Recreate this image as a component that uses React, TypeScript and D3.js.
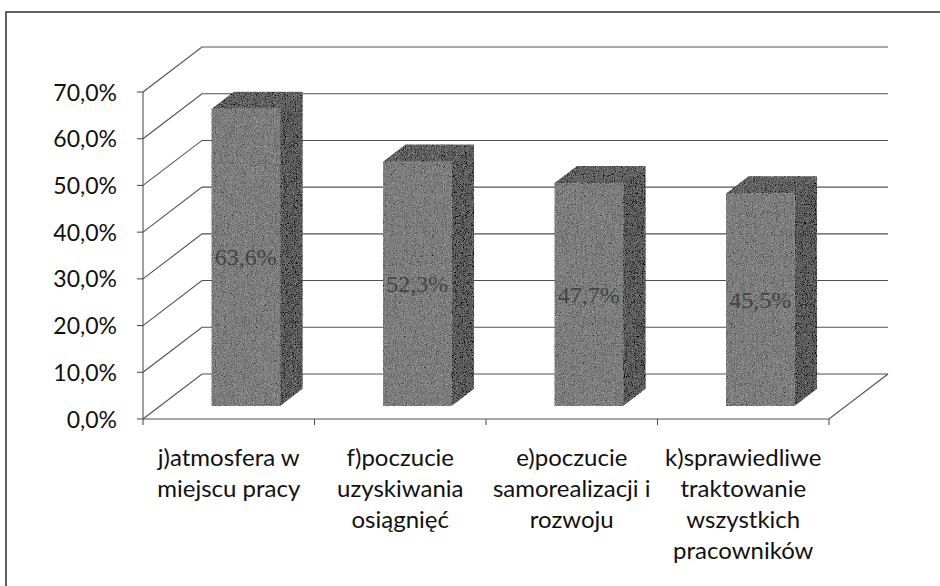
import * as d3 from "d3";

const categoryLines: string[][] = [
  ["j)atmosfera w", "miejscu pracy"],
  ["f)poczucie", "uzyskiwania", "osiągnięć"],
  ["e)poczucie", "samorealizacji i", "rozwoju"],
  ["k)sprawiedliwe", "traktowanie", "wszystkich", "pracowników"],
];
const values = [63.6, 52.3, 47.7, 45.5];
const yTicks = [0, 10, 20, 30, 40, 50, 60, 70];

const W = 940;
const H = 586;
// full depth of the 3D box (screen offset from front plane to back wall)
const DX = 59;
const DY = 45;
// bar sits between these depth fractions
const Z0 = 0.29;
const Z1 = 0.67;

const pl = d3.formatLocale({
  decimal: ",",
  thousands: " ",
  grouping: [3],
  currency: ["", " zł"],
});
const fmt = (v: number) => pl.format(".1f")(v) + "%";

const x = d3
  .scaleBand<number>()
  .domain(values.map((_, i) => i))
  .range([143, 829])
  .paddingInner(0.6)
  .paddingOuter(0.3);
const step = x.step();
const x0 = 143;
const y = d3.scaleLinear().domain([0, 70]).range([419, 92]);

const pt = (px: number, v: number, z: number): [number, number] => [
  px + z * DX,
  y(v) - z * DY,
];
const poly = (pts: [number, number][]) =>
  "M" + pts.map((p) => p.join(",")).join("L") + "Z";

const gridColor = "#505050";
const labelFont = "Lato, 'Open Sans', sans-serif";

export default function App() {
  const xEnd = 829;
  return (
    <svg
      width={W}
      height={H}
      style={{ position: "absolute", left: 0, top: 0, background: "#fff" }}
    >
      <defs>
        <filter id="grain" x="0" y="0" width="100%" height="100%">
          <feTurbulence
            type="fractalNoise"
            baseFrequency="1.1"
            numOctaves="2"
            seed="3"
            result="noise"
          />
          <feColorMatrix
            in="noise"
            type="matrix"
            values="0.33 0.33 0.33 0 0  0.33 0.33 0.33 0 0  0.33 0.33 0.33 0 0  0 0 0 0 1"
            result="gray"
          />
          <feComposite
            in="SourceGraphic"
            in2="gray"
            operator="arithmetic"
            k1="0"
            k2="1"
            k3="0.8"
            k4="-0.4"
            result="mix"
          />
          <feComposite in="mix" in2="SourceGraphic" operator="in" />
        </filter>
      </defs>

      {/* outer frame */}
      <rect
        x={6}
        y={12}
        width={W + 10}
        height={H + 10}
        fill="none"
        stroke="#3a3a3a"
        strokeWidth={1.6}
      />

      {/* back wall and side wall gridlines */}
      <g stroke={gridColor} strokeWidth={1.1} fill="none">
        {yTicks.map((t) => {
          const a = pt(x0, t, 0);
          const b = pt(x0, t, 1);
          const c = pt(xEnd, t, 1);
          return (
            <path
              key={t}
              d={`M${a[0]},${a[1]}L${b[0]},${b[1]}L${c[0]},${c[1]}`}
            />
          );
        })}
        {/* floor front and right edges */}
        <path
          d={(() => {
            const a = pt(x0, 0, 0);
            const b = pt(xEnd, 0, 0);
            const c = pt(xEnd, 0, 1);
            return `M${a[0]},${a[1]}L${b[0]},${b[1]}L${c[0]},${c[1]}`;
          })()}
        />
        {/* vertical axis */}
        <line x1={x0} x2={x0} y1={y(0)} y2={y(70)} />
        {yTicks.map((t) => (
          <line key={"yt" + t} x1={x0 - 6} x2={x0} y1={y(t)} y2={y(t)} />
        ))}
        {d3.range(values.length + 1).map((i) => (
          <line
            key={"xt" + i}
            x1={x0 + i * step}
            x2={x0 + i * step}
            y1={y(0)}
            y2={y(0) + 6}
          />
        ))}
      </g>

      {/* y tick labels */}
      <g fontFamily={labelFont} fontSize={23} fill="#111" textAnchor="end">
        {yTicks.map((t) => (
          <text key={t} x={117} y={y(t) + 8.5}>
            {fmt(t)}
          </text>
        ))}
      </g>

      {/* bars */}
      {values.map((v, i) => {
        const l = x(i)!;
        const r = l + x.bandwidth();
        const front = poly([pt(l, 0, Z0), pt(r, 0, Z0), pt(r, v, Z0), pt(l, v, Z0)]);
        const side = poly([pt(r, 0, Z0), pt(r, 0, Z1), pt(r, v, Z1), pt(r, v, Z0)]);
        const top = poly([pt(l, v, Z0), pt(r, v, Z0), pt(r, v, Z1), pt(l, v, Z1)]);
        const c = pt((l + r) / 2, v / 2, Z0);
        return (
          <g key={i}>
            <g filter="url(#grain)">
              <path d={front} fill="#7e7e7e" />
              <path d={side} fill="#5c5c5c" />
              <path d={top} fill="#626262" />
            </g>
            <text
              x={c[0]}
              y={c[1] + 8}
              textAnchor="middle"
              fontFamily="'Liberation Serif', 'DejaVu Serif', serif"
              fontSize={24}
              fill="#444"
            >
              {fmt(v)}
            </text>
          </g>
        );
      })}

      {/* category labels */}
      <g fontFamily={labelFont} fontSize={24} fill="#111" textAnchor="middle">
        {categoryLines.map((lines, i) => (
          <text key={i} x={x(i)! + x.bandwidth() / 2}>
            {lines.map((ln, j) => (
              <tspan key={j} x={x(i)! + x.bandwidth() / 2} y={466 + j * 31}>
                {ln}
              </tspan>
            ))}
          </text>
        ))}
      </g>
    </svg>
  );
}
